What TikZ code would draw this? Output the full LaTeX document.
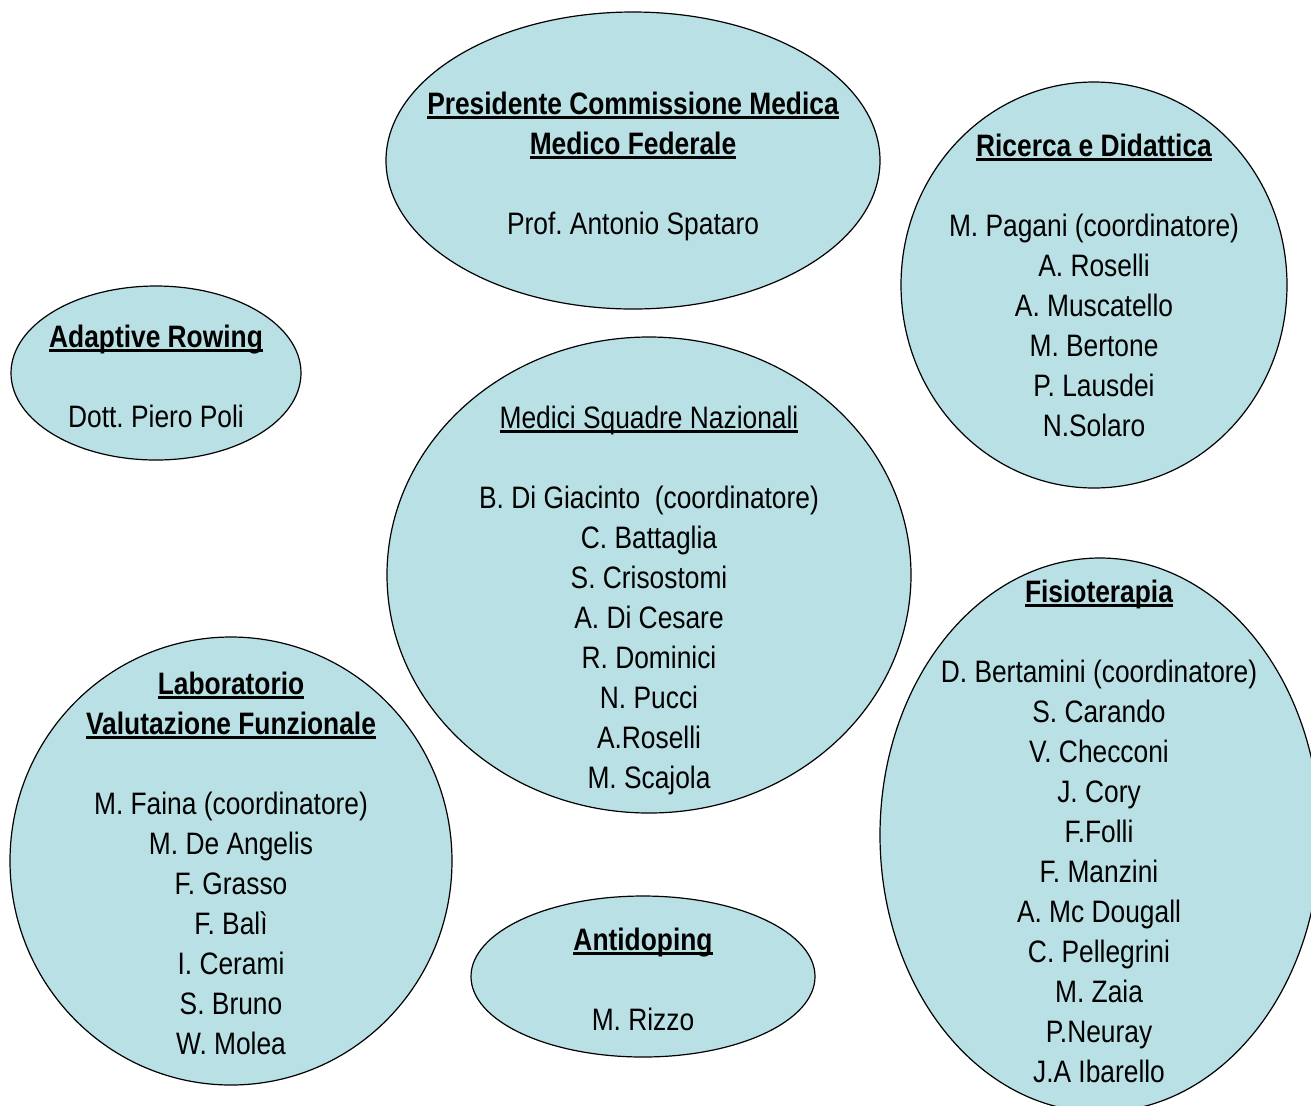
\documentclass[tikz,border=0pt]{standalone}
\usepackage{fontspec}
\setmainfont[FakeStretch=0.85]{Liberation Sans}
\usetikzlibrary{shapes.geometric}
\definecolor{celeste}{RGB}{185,224,228}
\newcommand{\sottolinea}[1]{\setbox0=\hbox{#1}\rlap{\rule[-2.5pt]{\wd0}{1.3pt}}\box0}
\frenchspacing

\begin{document}
\begin{tikzpicture}[
    x=0.5pt, y=-0.5pt,
    font=\fontsize{15.5}{20}\selectfont,
    ovale/.style={
        ellipse,
        draw=black,
        line width=0.6pt,
        fill=celeste,
        inner sep=0pt
    },
    elenco/.style={align=center, inner sep=0pt}
]

\useasboundingbox (0,0) rectangle (1311,1105);
\clip (0,0) rectangle (1311,1105);

% --- Ovali ---
\node[ovale, minimum width=247pt, minimum height=148.5pt] (presidente) at (633,160.5) {};
\node[ovale, minimum width=193pt, minimum height=203pt] (ricerca) at (1094,285) {};
\node[ovale, minimum width=145pt, minimum height=87pt] (adaptive) at (156,373) {};
\node[ovale, minimum width=262pt, minimum height=238pt] (medici) at (649,575) {};
\node[ovale, minimum width=220pt, minimum height=277pt] (fisioterapia) at (1100,835) {};
\node[ovale, minimum width=221pt, minimum height=224pt] (laboratorio) at (231,861) {};
\node[ovale, minimum width=172pt, minimum height=80.5pt] (antidoping) at (643,976.5) {};

% --- Testi ---
\node[elenco] (presidenteTxt) at (633,166)
{\strut\sottolinea{\bfseries Presidente Commissione Medica}\\
 \sottolinea{\bfseries Medico Federale}\\[20pt]
 Prof. Antonio Spataro\strut};

\node[elenco] (ricercaTxt) at (1094,288)
{\strut\sottolinea{\bfseries Ricerca e Didattica}\\[20pt]
 M. Pagani (coordinatore)\\ A. Roselli\\ A. Muscatello\\
 M. Bertone\\ P. Lausdei\\ N.Solaro\strut};

\node[elenco] (adaptiveTxt) at (156,379)
{\strut\sottolinea{\bfseries Adaptive Rowing}\\[20pt]
 Dott. Piero Poli\strut};

\node[elenco] (mediciTxt) at (649,600)
{\strut\sottolinea{Medici Squadre Nazionali}\\[20pt]
 B. Di Giacinto\ \ (coordinatore)\\ C. Battaglia\\ S. Crisostomi\\
 A. Di Cesare\\ R. Dominici\\ N. Pucci\\ A.Roselli\\ M. Scajola\strut};

\node[elenco] (fisioterapiaTxt) at (1099,834)
{\strut\sottolinea{\bfseries Fisioterapia}\\[20pt]
 D. Bertamini (coordinatore)\\ S. Carando\\ V. Checconi\\ J. Cory\\
 F.Folli\\ F. Manzini\\ A. Mc Dougall\\ C. Pellegrini\\ M. Zaia\\
 P.Neuray\\ J.A Ibarello\strut};

\node[elenco] (laboratorioTxt) at (231,866)
{\strut\sottolinea{\bfseries Laboratorio}\\
 \sottolinea{\bfseries Valutazione Funzionale}\\[20pt]
 M. Faina (coordinatore)\\ M. De Angelis\\ F. Grasso\\ F. Balì\\
 I. Cerami\\ S. Bruno\\ W. Molea\strut};

\node[elenco] (antidopingTxt) at (643,982)
{\strut\sottolinea{\bfseries Antidoping}\\[20pt]
 M. Rizzo\strut};

\end{tikzpicture}
\end{document}
